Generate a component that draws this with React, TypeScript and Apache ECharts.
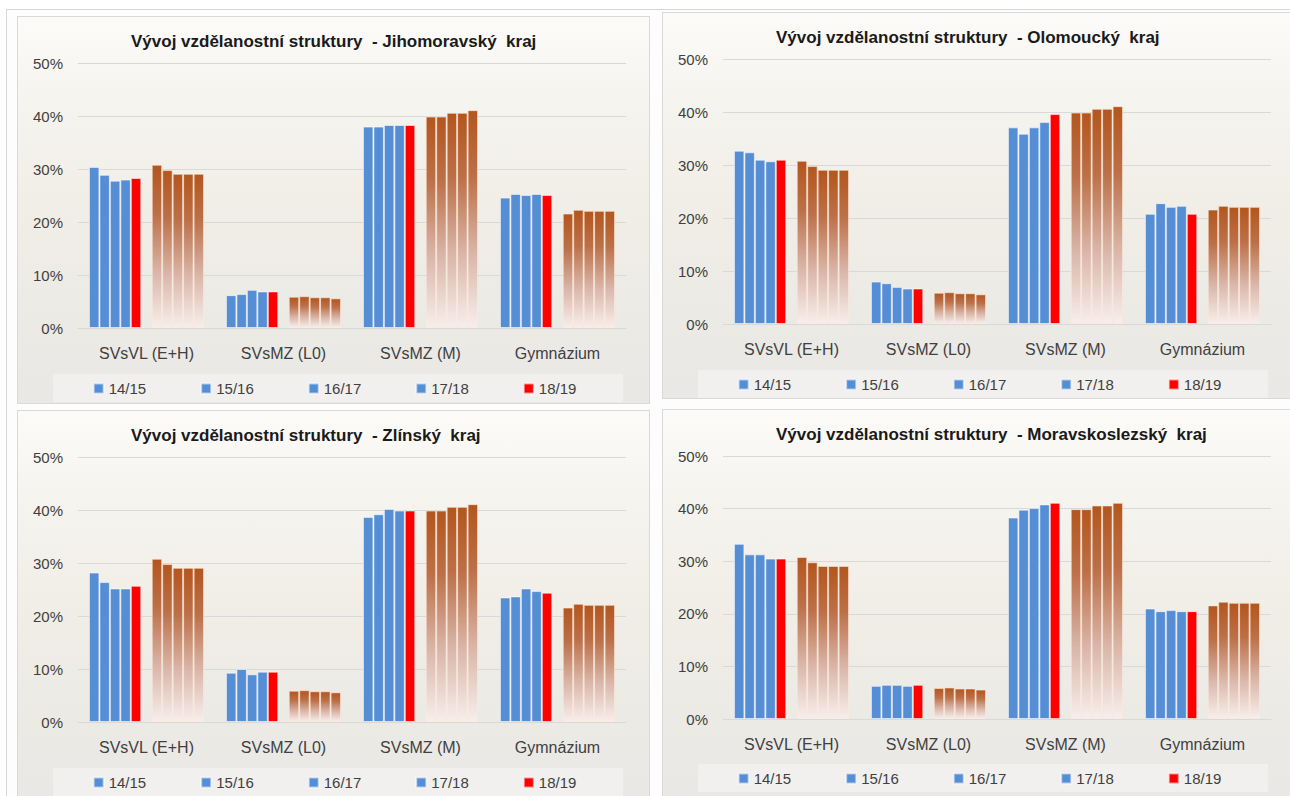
import React, { useEffect, useRef } from "react";
import * as echarts from "echarts";

const categories = ["SVsVL (E+H)", "SVsMZ (L0)", "SVsMZ (M)", "Gymnázium"];
const years = ["14/15", "15/16", "16/17", "17/18", "18/19"];
const yTicks = [0, 10, 20, 30, 40, 50];

// Region values, one row per school year, columns follow categories (%)
const jihomoravsky = [
  [30.4, 6.2, 38.0, 24.6],
  [28.9, 6.4, 38.0, 25.3],
  [27.8, 7.2, 38.3, 25.1],
  [28.0, 6.9, 38.3, 25.3],
  [28.3, 6.9, 38.3, 25.1],
];
const olomoucky = [
  [32.7, 8.0, 37.1, 20.8],
  [32.4, 7.7, 35.9, 22.8],
  [31.0, 7.0, 37.1, 22.1],
  [30.7, 6.7, 38.1, 22.3],
  [31.0, 6.7, 39.6, 20.8],
];
const zlinsky = [
  [28.2, 9.3, 38.7, 23.5],
  [26.4, 10.0, 39.2, 23.7],
  [25.2, 9.0, 40.2, 25.2],
  [25.2, 9.5, 39.9, 24.7],
  [25.7, 9.5, 39.9, 24.4],
];
const moravskoslezsky = [
  [33.3, 6.3, 38.3, 21.0],
  [31.3, 6.5, 39.8, 20.5],
  [31.3, 6.5, 40.1, 20.7],
  [30.5, 6.3, 40.8, 20.5],
  [30.5, 6.5, 41.1, 20.5],
];
// Reference (brown gradient) bars, one row per school year
const reference = [
  [30.8, 5.9, 39.9, 21.6],
  [29.8, 6.0, 39.9, 22.3],
  [29.1, 5.8, 40.6, 22.1],
  [29.1, 5.8, 40.6, 22.1],
  [29.1, 5.6, 41.1, 22.1],
];

const FONT = "'Liberation Sans', Arial, sans-serif";

function buildOption(title: string, values: number[][], gridHeight: number, legendTop: number) {
  const series: any[] = [];
  years.forEach((y, i) => {
    series.push({
      type: "bar",
      name: y,
      data: values[i],
      barGap: "0%",
      barCategoryGap: "16%",
      itemStyle: {
        color: i === 4 ? "#FF0000" : "#558ED5",
        borderColor: "rgba(255,255,255,0.55)",
        borderWidth: 1,
      },
    });
  });
  series.push({
    type: "bar",
    name: "mezera",
    data: categories.map(() => "-"),
    barGap: "0%",
    barCategoryGap: "16%",
  });
  years.forEach((y, i) => {
    series.push({
      type: "bar",
      name: "ref " + y,
      data: reference[i],
      barGap: "0%",
      barCategoryGap: "16%",
      itemStyle: {
        color: new echarts.graphic.LinearGradient(0, 0, 0, 1, [
          { offset: 0, color: "#B3561E" },
          { offset: 0.3, color: "#BC7048" },
          { offset: 0.65, color: "#D9B4A6" },
          { offset: 1, color: "#F7EEEC" },
        ]),
        borderColor: "rgba(255,235,220,0.6)",
        borderWidth: 1,
      },
    });
  });

  return {
    animation: false,
    backgroundColor: "transparent",
    textStyle: { fontFamily: FONT },
    title: {
      text: title,
      left: 108,
      top: 11,
      textStyle: { fontFamily: FONT, fontSize: 17, fontWeight: "bold", color: "#1a1a1a" },
    },
    graphic: [
      {
        type: "rect",
        left: 35,
        top: legendTop - 2,
        shape: { width: 570, height: 28 },
        style: { fill: "#f1f0ee" },
        z: -1,
      },
    ],
    legend: {
      data: years,
      top: legendTop,
      left: "center",
      icon: "rect",
      itemWidth: 10,
      itemHeight: 10,
      itemGap: 54,
      textStyle: { fontFamily: FONT, fontSize: 15, color: "#404040" },
    },
    grid: { left: 60, top: 46, width: 548, height: gridHeight },
    xAxis: {
      type: "category",
      data: categories,
      axisLine: { lineStyle: { color: "#d9d9d9" } },
      axisTick: { show: false },
      axisLabel: { margin: 17, fontFamily: FONT, fontSize: 16, color: "#404040" },
    },
    yAxis: {
      type: "value",
      min: yTicks[0],
      max: yTicks[yTicks.length - 1],
      interval: 10,
      axisLine: { show: false },
      axisTick: { show: false },
      splitLine: { lineStyle: { color: "#d9d9d9" } },
      axisLabel: {
        margin: 15,
        fontFamily: FONT,
        fontSize: 15,
        color: "#404040",
        formatter: "{value}%",
      },
    },
    series,
  };
}

function Panel(props: {
  left: number;
  top: number;
  width: number;
  height: number;
  title: string;
  values: number[][];
  gridHeight: number;
  legendTop: number;
}) {
  const ref = useRef<HTMLDivElement>(null);
  useEffect(() => {
    if (!ref.current) return;
    const chart = echarts.init(ref.current, undefined, { renderer: "svg" });
    chart.setOption(buildOption(props.title, props.values, props.gridHeight, props.legendTop));
    return () => chart.dispose();
  }, []);
  return (
    <div
      style={{
        position: "absolute",
        left: props.left,
        top: props.top,
        width: props.width,
        height: props.height,
        border: "1px solid #d9d9d9",
        boxSizing: "border-box",
        overflow: "hidden",
        background:
          "linear-gradient(to bottom, #fcfbf9 0%, #f5f3ee 25%, #f0eee6 50%, #eceae5 78%, #e9e8e6 100%)",
      }}
    >
      <div ref={ref} style={{ position: "absolute", left: 0, top: 0, width: 633, height: 392 }} />
    </div>
  );
}

export default function App() {
  return (
    <div
      style={{
        position: "fixed",
        left: 0,
        top: 0,
        width: 1290,
        height: 796,
        background: "#ffffff",
        overflow: "hidden",
      }}
    >
      <div
        style={{
          position: "absolute",
          left: 6,
          top: 9,
          width: 1300,
          height: 800,
          borderLeft: "1px solid #d6d6d6",
          borderTop: "1px solid #d6d6d6",
          background: "#fdfdfd",
        }}
      />
      <Panel left={17} top={16} width={633} height={388} gridHeight={265} legendTop={359} title="Vývoj vzdělanostní struktury  - Jihomoravský  kraj" values={jihomoravsky} />
      <Panel left={662} top={12} width={640} height={387} gridHeight={265} legendTop={359} title="Vývoj vzdělanostní struktury  - Olomoucký  kraj" values={olomoucky} />
      <Panel left={17} top={410} width={633} height={392} gridHeight={265} legendTop={359} title="Vývoj vzdělanostní struktury  - Zlínský  kraj" values={zlinsky} />
      <Panel left={662} top={409} width={640} height={392} gridHeight={263} legendTop={356} title="Vývoj vzdělanostní struktury  - Moravskoslezský  kraj" values={moravskoslezsky} />
    </div>
  );
}
